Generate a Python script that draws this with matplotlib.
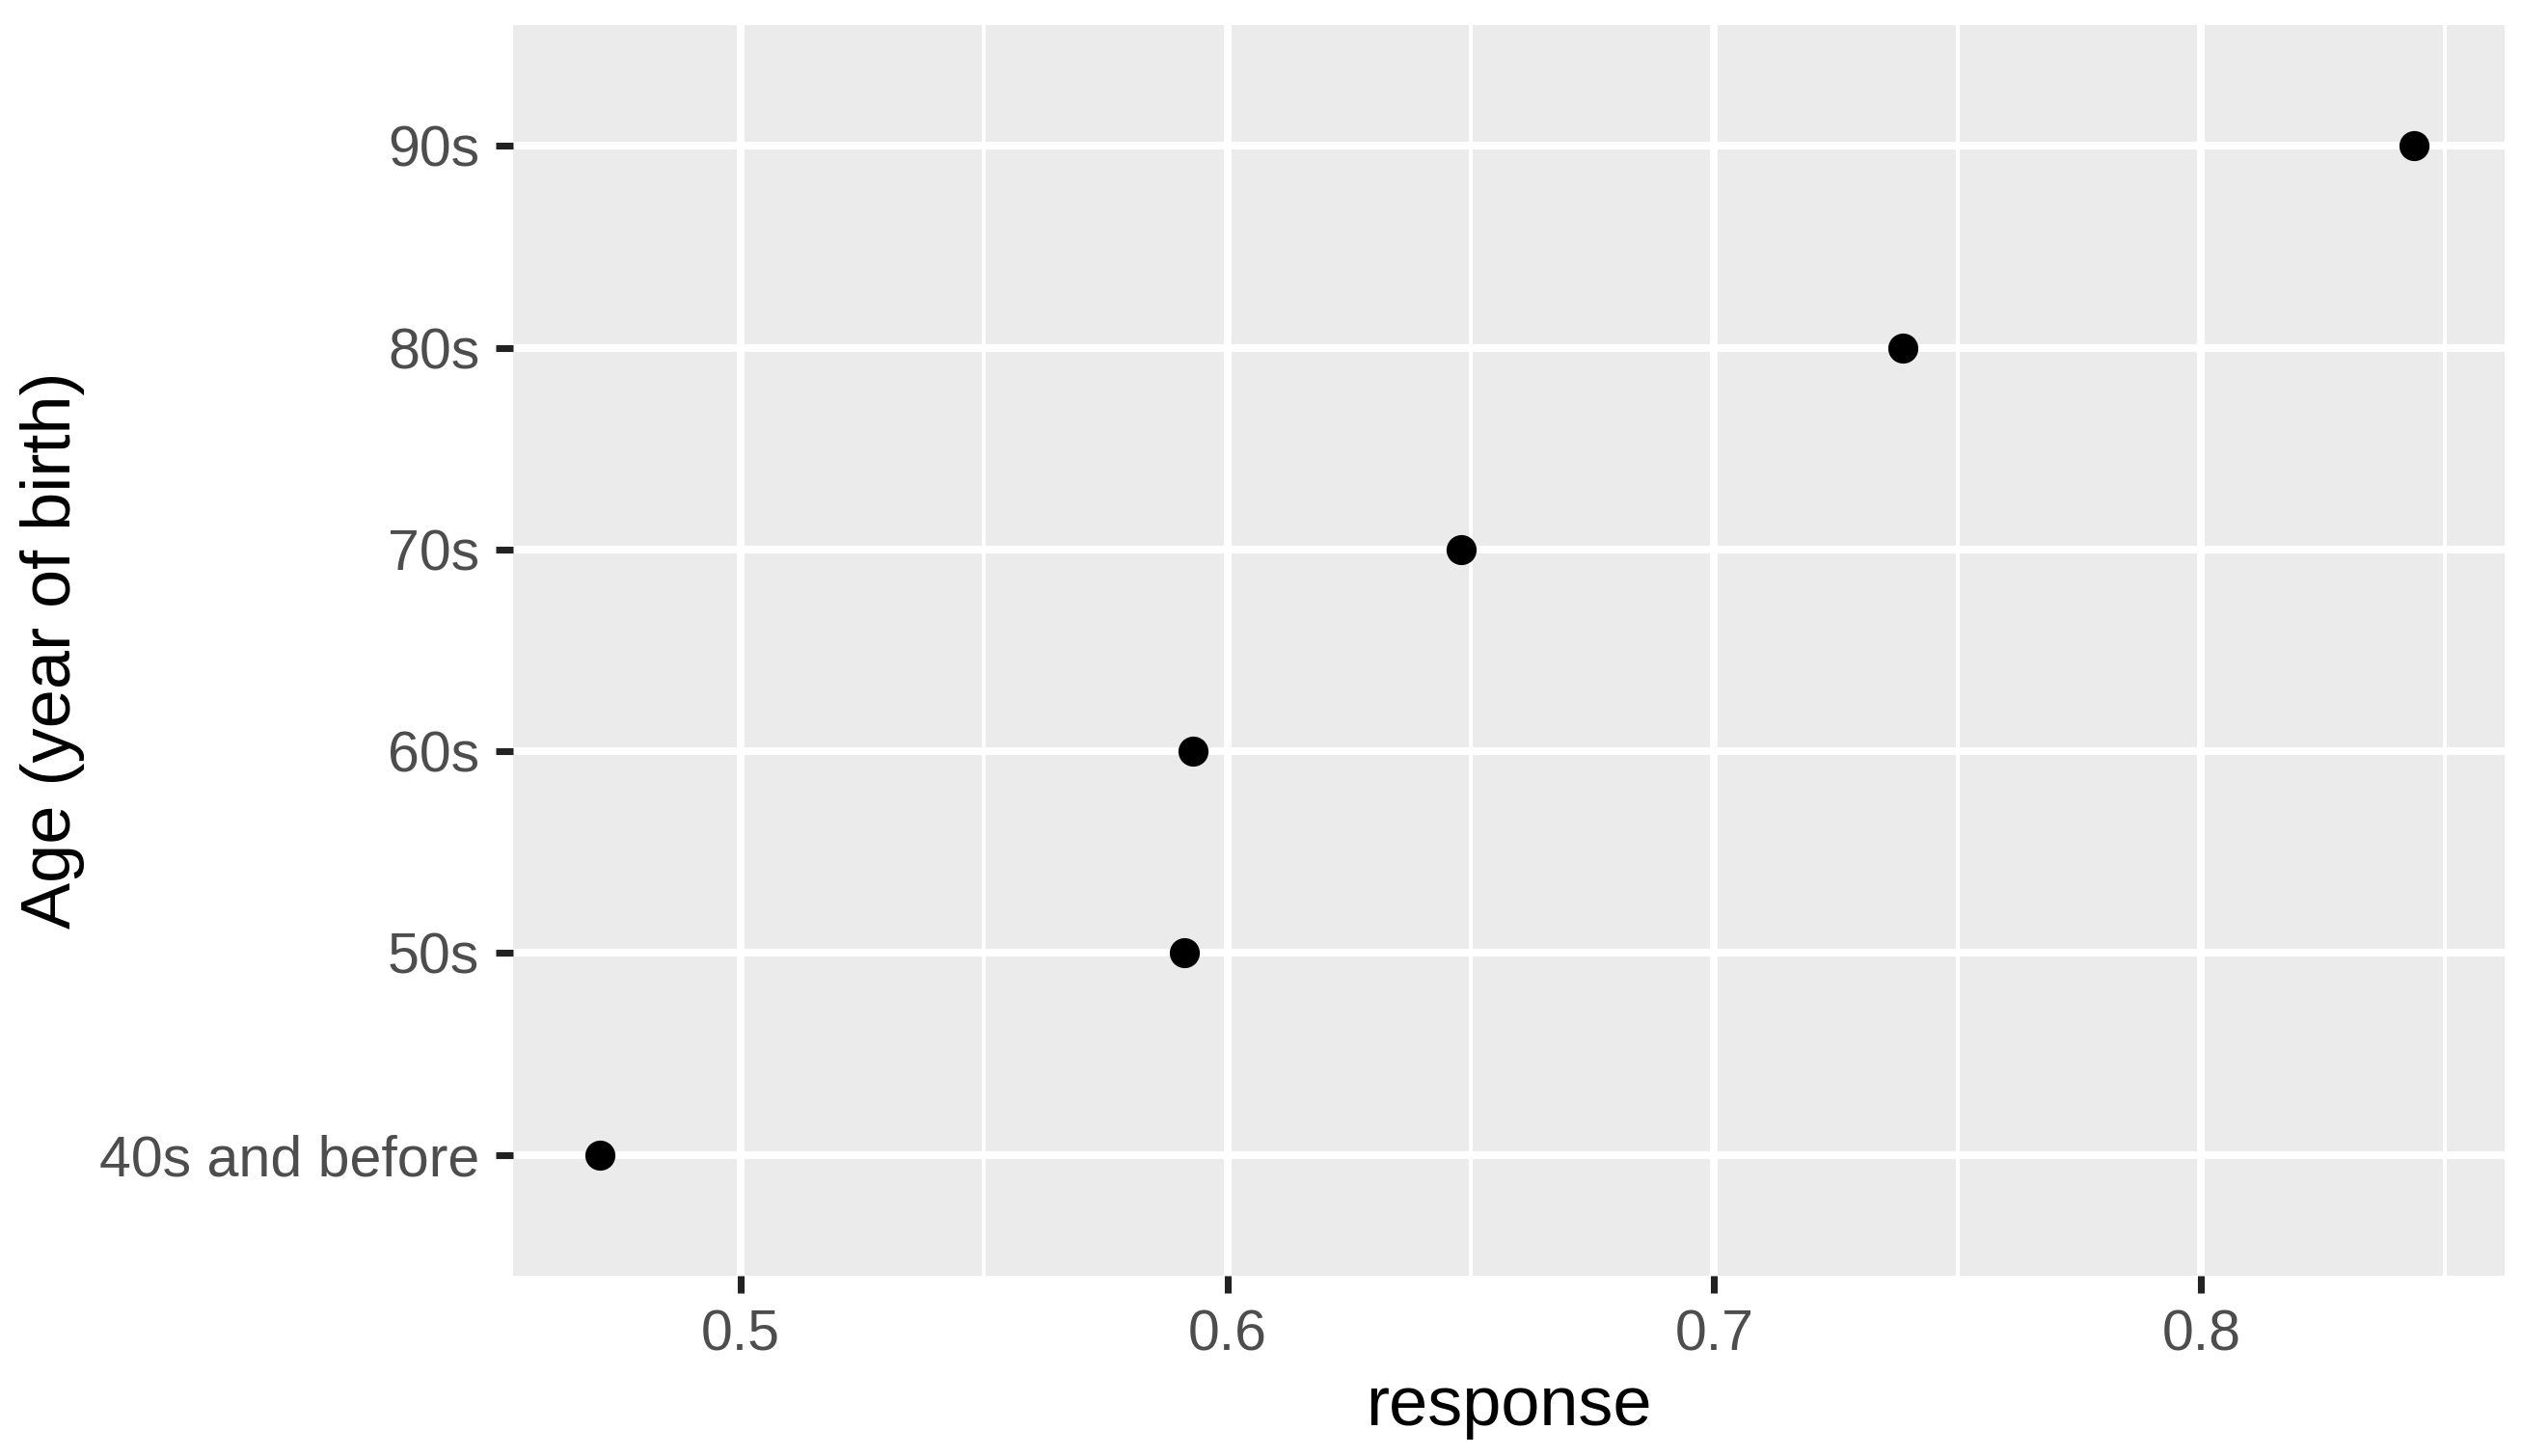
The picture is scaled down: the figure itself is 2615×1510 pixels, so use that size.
import matplotlib
matplotlib.use('Agg')
import matplotlib.pyplot as plt
import numpy as np

plt.rcParams['font.family'] = ['Liberation Sans', 'DejaVu Sans']

# data
ages = ['40s and before', '50s', '60s', '70s', '80s', '90s']
response = [0.4712, 0.5911, 0.5930, 0.6480, 0.7387, 0.8437]

major_x = [0.5, 0.6, 0.7, 0.8]
minor_x = [0.55, 0.65, 0.75, 0.85]

fig = plt.figure(figsize=(2615/300, 1510/300), dpi=300)
ax = fig.add_axes([0.2034, 0.1238, 0.9931 - 0.2034, 0.9828 - 0.1238])
ax.set_facecolor('#EBEBEB')

for x in minor_x:
    ax.axvline(x, color='white', lw=0.95, zorder=1)
for x in major_x:
    ax.axvline(x, color='white', lw=1.9, zorder=1)

ypos = np.arange(len(ages))
for y in ypos:
    ax.axhline(y, color='white', lw=1.9, zorder=1)

ax.scatter(response, ypos, s=56, color='black', zorder=3, linewidths=0)

ax.set_xlim(0.4533, 0.8623)
ax.set_ylim(-0.6, len(ages) - 0.4)
ax.set_xticks(major_x)
ax.set_xticklabels(['0.5', '0.6', '0.7', '0.8'])
ax.set_yticks(ypos)
ax.set_yticklabels(ages)

for s in ax.spines.values():
    s.set_visible(False)

ax.tick_params(axis='both', length=4.3, width=1.7, color='#222222',
               labelcolor='#4D4D4D', labelsize=14.2, pad=4)

ax.set_xlabel('response', fontsize=17.3, color='black')
ax.set_ylabel('Age (year of birth)', fontsize=17.3, color='black')
ax.xaxis.set_label_coords(0.5, -0.105)
ax.xaxis.label.set_va('center')
ax.yaxis.set_label_coords(-0.231, 0.5)
ax.yaxis.label.set_va('center')

fig.savefig('out.png', dpi=300, facecolor='white')
